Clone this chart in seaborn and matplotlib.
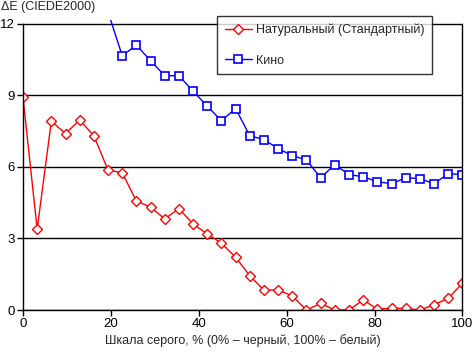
import numpy as np
import pandas as pd
import matplotlib
matplotlib.use('Agg')
import matplotlib.pyplot as plt
import seaborn as sns

# gray scale steps, 32 points from 0 to 100 %
gray = np.linspace(0, 100, 32)

natural = [8.92, 3.39, 7.92, 7.40, 7.97, 7.31, 5.87, 5.76, 4.57, 4.32,
           3.82, 4.25, 3.61, 3.19, 2.80, 2.21, 1.44, 0.83, 0.84, 0.59,
           0.00, 0.28, 0.00, 0.00, 0.42, 0.04, 0.07, 0.07, 0.00, 0.22,
           0.49, 1.12]

# first points of "Кино" are above the chart
kino = [np.nan, np.nan, np.nan, np.nan, np.nan, np.nan, 12.5, 10.67, 11.11, 10.46,
        9.83, 9.83, 9.18, 8.55, 7.94, 8.45, 7.31, 7.15, 6.77, 6.48,
        6.29, 5.55, 6.10, 5.68, 5.59, 5.38, 5.30, 5.55, 5.51, 5.30,
        5.72, 5.68]

labels = ['Натуральный (Стандартный)', 'Кино']
colors = ['#ff0000', '#0000ff']
y_ticks = [0, 3, 6, 9, 12]
x_ticks = [0, 20, 40, 60, 80, 100]

sns.set_style('white')
plt.rcParams['font.family'] = ['Liberation Sans', 'DejaVu Sans']
plt.rcParams['font.size'] = 9

df = pd.DataFrame({'x': gray, 'natural': natural, 'kino': kino})

fig = plt.figure(figsize=(4.72, 3.53), dpi=100)
ax = fig.add_axes([0.0487, 0.1218, 0.931, 0.8225])

sns.lineplot(data=df, x='x', y='natural', ax=ax, color=colors[0], lw=1,
             marker='D', markersize=5, markerfacecolor='white',
             markeredgecolor=colors[0], markeredgewidth=1, label=labels[0])
sns.lineplot(data=df.dropna(), x='x', y='kino', ax=ax, color=colors[1], lw=1,
             marker='s', markersize=5.5, markerfacecolor='white',
             markeredgecolor=colors[1], markeredgewidth=1.2, label=labels[1])

ax.set_xlim(0, 100)
ax.set_ylim(0, 12.18)
ax.set_xticks(x_ticks)
ax.set_yticks(y_ticks)
ax.set_xticklabels([str(t) for t in x_ticks], fontsize=9.5)
ax.set_yticklabels([str(t) for t in y_ticks], fontsize=9.5)
ax.grid(axis='y', color='black', lw=1)
ax.set_axisbelow(True)

for s in ['left', 'right', 'bottom']:
    ax.spines[s].set_visible(True)
    ax.spines[s].set_color('black')
    ax.spines[s].set_linewidth(1)
ax.spines['top'].set_visible(False)
ax.spines['left'].set_bounds(0, 12)
ax.spines['right'].set_bounds(0, 12)

ax.tick_params(axis='both', direction='out', length=4, width=1, color='black',
               pad=2, labelcolor='black')
ax.tick_params(axis='x', bottom=True)
ax.tick_params(axis='y', left=True)

ax.set_xlabel('Шкала серого, % (0% – черный, 100% – белый)', fontsize=9, labelpad=3)
ax.set_ylabel('')
fig.text(0.002, 0.98, 'ΔE (CIEDE2000)', fontsize=9, ha='left', va='center')

leg = ax.legend(loc='upper left', bbox_to_anchor=(217 / 472, 1 - 16 / 353),
                bbox_transform=fig.transFigure, frameon=True, fancybox=False,
                edgecolor='black', fontsize=9, handlelength=2.2,
                handletextpad=0.3, labelspacing=1.5, borderpad=0.6,
                borderaxespad=0)
leg.get_frame().set_linewidth(1)

fig.savefig('out.png', dpi=100)
